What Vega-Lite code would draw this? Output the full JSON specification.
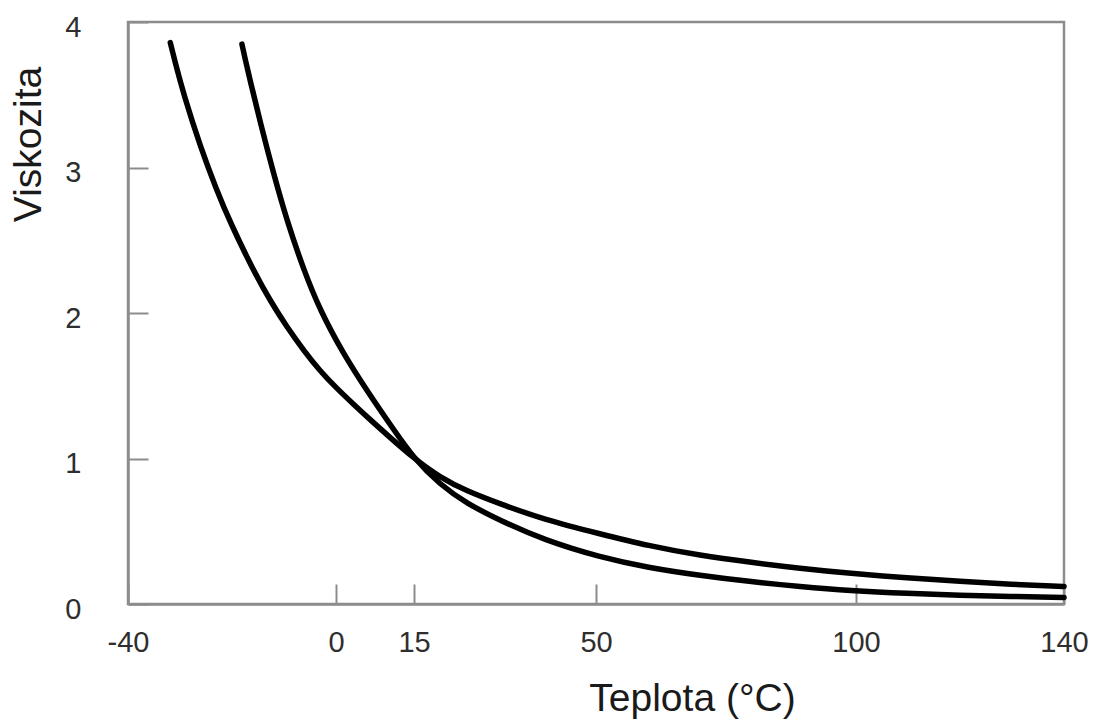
{
  "$schema": "https://vega.github.io/schema/vega-lite/v6.json",
  "autosize": "none",
  "padding": {"left": 128, "top": 22, "right": 33, "bottom": 116},
  "width": 936,
  "height": 582,
  "background": "white",
  "config": {
    "view": {"stroke": "#8c8c8c", "strokeWidth": 2.5},
    "font": "Liberation Sans"
  },
  "data": {
    "values": [
      {"T": -31.87, "V": 3.858, "curve": "B"},
      {"T": -31.0, "V": 3.732, "curve": "B"},
      {"T": -29.32, "V": 3.505, "curve": "B"},
      {"T": -26.11, "V": 3.145, "curve": "B"},
      {"T": -22.9, "V": 2.84, "curve": "B"},
      {"T": -20.34, "V": 2.622, "curve": "B"},
      {"T": -15.86, "V": 2.29, "curve": "B"},
      {"T": -12.5, "V": 2.075, "curve": "B"},
      {"T": -9.44, "V": 1.904, "curve": "B"},
      {"T": -6.2, "V": 1.742, "curve": "B"},
      {"T": -3.04, "V": 1.6, "curve": "B"},
      {"T": 0, "V": 1.4875, "curve": "B"},
      {"T": 3.36, "V": 1.373, "curve": "B"},
      {"T": 6.5, "V": 1.269, "curve": "B"},
      {"T": 9.79, "V": 1.164, "curve": "B"},
      {"T": 15, "V": 1.0, "curve": "B"},
      {"T": 20, "V": 0.87, "curve": "B"},
      {"T": 25.2, "V": 0.775, "curve": "B"},
      {"T": 31.57, "V": 0.688, "curve": "B"},
      {"T": 40, "V": 0.58, "curve": "B"},
      {"T": 50.8, "V": 0.482, "curve": "B"},
      {"T": 60, "V": 0.4, "curve": "B"},
      {"T": 70, "V": 0.333, "curve": "B"},
      {"T": 80, "V": 0.285, "curve": "B"},
      {"T": 89.2, "V": 0.245, "curve": "B"},
      {"T": 98.8, "V": 0.21, "curve": "B"},
      {"T": 110, "V": 0.18, "curve": "B"},
      {"T": 120, "V": 0.155, "curve": "B"},
      {"T": 130, "V": 0.135, "curve": "B"},
      {"T": 139, "V": 0.121, "curve": "B"},
      {"T": 140, "V": 0.12, "curve": "B"},
      {"T": -18.09, "V": 3.848, "curve": "A"},
      {"T": -17.5, "V": 3.75, "curve": "A"},
      {"T": -16.49, "V": 3.595, "curve": "A"},
      {"T": -14.57, "V": 3.31, "curve": "A"},
      {"T": -12.02, "V": 2.96, "curve": "A"},
      {"T": -9.44, "V": 2.635, "curve": "A"},
      {"T": -6.25, "V": 2.3, "curve": "A"},
      {"T": -3.04, "V": 2.016, "curve": "A"},
      {"T": 1.44, "V": 1.718, "curve": "A"},
      {"T": 5.94, "V": 1.466, "curve": "A"},
      {"T": 11.05, "V": 1.2, "curve": "A"},
      {"T": 15, "V": 1.0, "curve": "A"},
      {"T": 20, "V": 0.82, "curve": "A"},
      {"T": 25.2, "V": 0.69, "curve": "A"},
      {"T": 31.57, "V": 0.573, "curve": "A"},
      {"T": 40, "V": 0.44, "curve": "A"},
      {"T": 50.8, "V": 0.321, "curve": "A"},
      {"T": 60, "V": 0.25, "curve": "A"},
      {"T": 70, "V": 0.196, "curve": "A"},
      {"T": 80, "V": 0.152, "curve": "A"},
      {"T": 89.2, "V": 0.12, "curve": "A"},
      {"T": 98.8, "V": 0.092, "curve": "A"},
      {"T": 110, "V": 0.072, "curve": "A"},
      {"T": 120, "V": 0.06, "curve": "A"},
      {"T": 130, "V": 0.051, "curve": "A"},
      {"T": 139, "V": 0.0455, "curve": "A"},
      {"T": 140, "V": 0.045, "curve": "A"}
    ]
  },
  "mark": {"type": "line", "color": "black", "strokeWidth": 5.5, "interpolate": "basis", "strokeCap": "round"},
  "encoding": {
    "x": {
      "field": "T", "type": "quantitative",
      "scale": {"domain": [-40, 140], "nice": false, "zero": false},
      "axis": {
        "values": [-40, 0, 15, 50, 100, 140],
        "labelExpr": "datum.value < 0 ? '-' + abs(datum.value) : '' + datum.value",
        "title": "Teplota (°C)",
        "grid": false,
        "domainColor": "#8c8c8c", "domainWidth": 2.5,
        "tickColor": "#8c8c8c", "tickWidth": 2, "tickSize": -20,
        "labelFontSize": 29, "labelColor": "#2e2e2e", "labelPadding": 44,
        "labelFlush": false,
        "titleFontSize": 39, "titleFontWeight": "normal", "titleColor": "#1a1a1a",
        "titleX": 564, "titleY": 94, "titleBaseline": "middle", "titleAlign": "center"
      }
    },
    "y": {
      "field": "V", "type": "quantitative",
      "scale": {"domain": [0, 4], "nice": false},
      "axis": {
        "values": [0, 1, 2, 3, 4],
        "title": "Viskozita",
        "grid": false,
        "domainColor": "#8c8c8c", "domainWidth": 2.5,
        "tickColor": "#8c8c8c", "tickWidth": 2, "tickSize": -20,
        "labelFontSize": 29, "labelColor": "#2e2e2e", "labelPadding": 67,
        "labelOffset": 5, "labelFlush": false,
        "titleFontSize": 39, "titleFontWeight": "normal", "titleColor": "#1a1a1a",
        "titleX": -100, "titleY": 122, "titleBaseline": "middle", "titleAlign": "center"
      }
    },
    "detail": {"field": "curve", "type": "nominal"}
  }
}
